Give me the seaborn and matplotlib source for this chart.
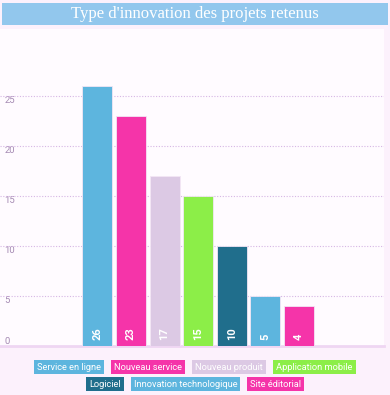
import matplotlib
matplotlib.use("Agg")
import matplotlib.pyplot as plt
import seaborn as sns
import pandas as pd
from matplotlib.patches import Rectangle

# ---------------- DATA ----------------
categories = ["Service en ligne", "Nouveau service", "Nouveau produit",
              "Application mobile", "Logiciel", "Innovation technologique",
              "Site éditorial"]
values = [26, 23, 17, 15, 10, 5, 4]
colors = ["#5db5de", "#f534a9", "#dcc9e4", "#8cee48", "#206e8c", "#5db5de", "#f534a9"]
y_ticks = [0, 5, 10, 15, 20, 25]
title = "Type d'innovation des projets retenus"

legend_rows = [categories[:4], categories[4:]]

# ---------------- STYLE ----------------
sns.set_theme(style="white")
plt.rcParams['font.family'] = ['Roboto', 'DejaVu Sans']

fig_bg = "#fcf1fc"
ax_bg = "#fffbff"

fig = plt.figure(figsize=(3.9, 3.95), dpi=100, facecolor=fig_bg)
W, H = 390, 395

# axes: left 0 .. 384 px, bottom at 346 px, top at 29 px
ax = fig.add_axes([0, (H - 346) / H, 384 / W, (346 - 29) / H])
ax.set_facecolor(ax_bg)

df = pd.DataFrame({"cat": categories, "val": values})
sns.barplot(data=df, x="cat", y="val", hue="cat", palette=colors, legend=False,
            width=0.89, saturation=1, edgecolor="#f3e6f5", linewidth=0.6, ax=ax, zorder=3)

ax.set_xlim(-2.9, 8.53)
ax.set_ylim(0, 31.7)
ax.set_xlabel("")
ax.set_ylabel("")
ax.set_xticks([])
ax.set_yticks(y_ticks)
ax.set_yticklabels([str(t) for t in y_ticks], ha="left", va="top",
                   fontsize=6.8, color="#a58ab3")
ax.get_yticklabels()[0].set_va("bottom")
ax.tick_params(axis="y", length=0, pad=-3)
for t in y_ticks[1:]:
    ax.axhline(t, color="#d6b6e4", linestyle=(0, (1, 1.5)), linewidth=0.8, zorder=1)

for s in ["top", "right", "left"]:
    ax.spines[s].set_visible(False)
ax.spines["bottom"].set_color("#efd6f3")
ax.spines["bottom"].set_linewidth(2)

# value labels inside bars
for i, v in enumerate(values):
    ax.text(i, 0.6, str(v), rotation=90, ha="center", va="bottom",
            color="white", fontsize=8, fontweight="bold", zorder=4)

# ---------------- TITLE BAR ----------------
fig.patches.append(Rectangle((2 / W, 1 - 25 / H), 386 / W, 22 / H,
                             transform=fig.transFigure, facecolor="#92c7ed",
                             edgecolor="none"))
fig.text(0.5, 1 - 14 / H, title, ha="center", va="center", color="white",
         fontsize=12, family="Liberation Serif")

# ---------------- LEGEND (coloured boxes) ----------------
color_of = dict(zip(categories, colors))
renderer = fig.canvas.get_renderer()
row_y = [367, 384]   # box centres, px from top
box_h = 14
box_pad = 3          # px on each side of the text
box_gap = 7          # px between two boxes
target_width = 325   # px spanned by the first legend row


def make_row(row, yy, size):
    texts = []
    for name in row:
        txt = fig.text(0, 1 - (yy + 0.5) / H, name, ha="left", va="center",
                       color="white", fontsize=size, zorder=5)
        texts.append(txt)
    widths = [t.get_window_extent(renderer).width + 2 * box_pad for t in texts]
    total = sum(widths) + box_gap * (len(widths) - 1)
    return texts, widths, total


# find a font size so the first row fits the reference width
probe, _, probe_total = make_row(legend_rows[0], row_y[0], 8)
for t in probe:
    t.remove()
leg_size = 8 * (target_width - box_gap * 3 - 8 * box_pad) / (probe_total - box_gap * 3 - 8 * box_pad)

for row, yy in zip(legend_rows, row_y):
    texts, widths, total = make_row(row, yy, leg_size)
    x = (W - total) / 2
    for name, t, w in zip(row, texts, widths):
        fig.patches.append(Rectangle((x / W, 1 - (yy + box_h / 2) / H), w / W, box_h / H,
                                     transform=fig.transFigure,
                                     facecolor=color_of[name], edgecolor="none",
                                     zorder=4))
        t.set_x((x + box_pad) / W)
        x += w + box_gap

fig.savefig("out.png", dpi=100, facecolor=fig_bg)
